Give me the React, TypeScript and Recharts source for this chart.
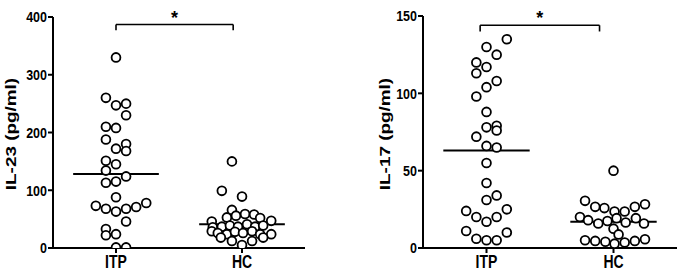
import React from 'react';
import { ScatterChart, Scatter, XAxis, YAxis, ReferenceLine } from 'recharts';

const groups = ['ITP', 'HC'];

// IL-23 panel
const il23Itp = [330, 260, 247, 250, 230, 210, 208, 188, 172, 180, 168, 151, 145, 134, 113, 115, 124, 88, 73, 68, 63, 68, 71, 78, 46, 33, 22, 24, 1, 1];
const il23ItpSlot = [0, -1, 0, 1, 1, -1, 0, -1, 0, 1, 1, -1, 0, -1, -1, 0, 1, 0, -2, -1, 0, 1, 2, 3, 1, -1, -1, 0, 0, 1];
const il23Hc = [150, 99, 89, 66, 53, 56, 59, 58, 52, 47, 46, 36, 37, 39, 37, 41, 37, 39, 29, 26, 24, 28, 26, 29, 24, 24, 12, 5, 12, 18, 18];
const il23HcSlot = [-1, -2, 0, -1, -1.5, -0.6, 0.3, 1.2, 1.8, 2.9, -3, -2.9, -2, -1.2, -0.4, 0.5, 1.3, 2.1, -3, -2.4, -1.5, -0.7, 0.1, 1, 1.8, 2.9, -1, 0, 1, -2.1, 2.1];
const il23Median = [128, 41];
const il23Ticks = [0, 100, 200, 300, 400];

// IL-17 panel
const il17Itp = [135, 130, 125, 120, 113, 117, 108, 104, 98, 88, 79, 78, 76, 72, 66, 65, 55, 42, 34, 31, 24, 25, 20, 20, 17, 11, 10, 6, 5, 5];
const il17ItpSlot = [2, 0, 1, -1, -1, 0, 1, 0, -1, 0, 1, 0, 1, -1, 0, 1, 0, 0, 1, 0, -2, 2, -1, 1, 0, -2, 2, -1, 0, 1];
const il17Hc = [50, 30.5, 26.6, 25.8, 23.6, 23.6, 26.6, 28.3, 20, 18, 15.8, 17.5, 19.3, 16.5, 19.3, 15.8, 12.5, 8.8, 5, 4.6, 4, 2.8, 3.5, 4.6, 5.7];
const il17HcSlot = [0, -2.8, -1.8, -0.9, 0.1, 1.1, 2.1, 3.1, -3.3, -2.5, -1.5, -0.6, 0.3, 1.2, 2.2, 3, 0, 0.5, -2.8, -1.8, -0.8, 0.1, 1.1, 2.1, 3.1];
const il17Median = [63, 17];
const il17Ticks = [0, 50, 100, 150];

const FONT = "'Liberation Sans', Arial, sans-serif";
const SLOT = 0.08;
const HALF = 0.34;

const toPoints = (values: number[], slots: number[], center: number) =>
  values.map((v, i) => ({ x: center + slots[i] * SLOT, y: v }));

const Dot = (props: any) => (
  <circle cx={props.cx} cy={props.cy} r={4.4} fill="#fff" stroke="#000" strokeWidth={1.8} />
);

// the original figure is stretched vertically, so the glyphs are drawn taller than wide
const YTick = (props: any) => (
  <g transform={`translate(${props.x},${props.y}) scale(1,1.2)`}>
    <text x={0} y={0} dy="0.36em" textAnchor="end" fill="#000" fontFamily={FONT} fontWeight="bold" fontSize={12.5}>
      {props.payload.value}
    </text>
  </g>
);

const XTick = (props: any) => (
  <g transform={`translate(${props.x},${props.y}) scale(1,1.25)`}>
    <text x={0} y={0} dy="0.71em" textAnchor="middle" fill="#000" fontFamily={FONT} fontWeight="bold" fontSize={14}>
      {groups[Math.round(props.payload.value - 0.5)]}
    </text>
  </g>
);

type PanelProps = {
  left: number;
  width: number;
  yWidth: number;
  top: number;
  max: number;
  ticks: number[];
  itp: { x: number; y: number }[];
  hc: { x: number; y: number }[];
  median: number[];
  bracket: { x1: number; x2: number; y: number; leg: number };
  title: string;
  titleX: number;
};

const Panel: React.FC<PanelProps> = ({ left, width, yWidth, top, max, ticks, itp, hc, median, bracket, title, titleX }) => {
  return (
    <div style={{ position: 'absolute', left, top: 0, width, height: 276 }}>
      <ScatterChart width={width} height={276} margin={{ top, right: 6, bottom: 0, left: 0 }}>
        <XAxis
          type="number"
          dataKey="x"
          domain={[0, 2]}
          ticks={[0.5, 1.5]}
          height={28}
          stroke="#000"
          strokeWidth={2}
          tickSize={5}
          tickMargin={3}
          tick={<XTick />}
        />
        <YAxis
          type="number"
          dataKey="y"
          domain={[0, max]}
          ticks={ticks}
          width={yWidth}
          stroke="#000"
          strokeWidth={2}
          tickSize={5}
          tickMargin={1}
          tick={<YTick />}
          allowDataOverflow
        />
        {median.map((m, i) => (
          <ReferenceLine
            key={'m' + i}
            segment={[{ x: 0.5 + i - HALF, y: m }, { x: 0.5 + i + HALF, y: m }]}
            stroke="#000"
            strokeWidth={2}
          />
        ))}
        <ReferenceLine
          segment={[{ x: bracket.x1, y: bracket.y }, { x: bracket.x2, y: bracket.y }]}
          stroke="#000"
          strokeWidth={1.6}
          ifOverflow="visible"
          label={{ value: '*', position: 'top', fill: '#000', fontSize: 18, fontWeight: 'bold', fontFamily: FONT, offset: 1 }}
        />
        <ReferenceLine
          segment={[{ x: bracket.x1, y: bracket.y }, { x: bracket.x1, y: bracket.leg }]}
          stroke="#000"
          strokeWidth={1.6}
          ifOverflow="visible"
        />
        <ReferenceLine
          segment={[{ x: bracket.x2, y: bracket.y }, { x: bracket.x2, y: bracket.leg }]}
          stroke="#000"
          strokeWidth={1.6}
          ifOverflow="visible"
        />
        <Scatter data={itp} shape={Dot} isAnimationActive={false} />
        <Scatter data={hc} shape={Dot} isAnimationActive={false} />
      </ScatterChart>
      <div
        style={{
          position: 'absolute',
          left: titleX,
          top: 134,
          transform: 'translate(-50%, -50%) rotate(-90deg) scaleX(1.35)',
          fontFamily: FONT,
          fontWeight: 'bold',
          fontSize: 14,
          whiteSpace: 'nowrap',
          color: '#000',
        }}
      >
        {title}
      </div>
    </div>
  );
};

export default function App() {
  return (
    <div style={{ position: 'absolute', left: 0, top: 0, width: 683, height: 276, background: '#fff' }}>
      <Panel
        left={0}
        width={311}
        yWidth={53}
        top={17}
        max={400}
        ticks={il23Ticks}
        itp={toPoints(il23Itp, il23ItpSlot, 0.5)}
        hc={toPoints(il23Hc, il23HcSlot, 1.5)}
        median={il23Median}
        bracket={{ x1: 0.5, x2: 1.43, y: 387, leg: 377 }}
        title="IL-23 (pg/ml)"
        titleX={11}
      />
      <Panel
        left={360}
        width={323}
        yWidth={63}
        top={16}
        max={150}
        ticks={il17Ticks}
        itp={toPoints(il17Itp, il17ItpSlot, 0.5)}
        hc={toPoints(il17Hc, il17HcSlot, 1.5)}
        median={il17Median}
        bracket={{ x1: 0.45, x2: 1.39, y: 144, leg: 140 }}
        title="IL-17 (pg/ml)"
        titleX={25}
      />
    </div>
  );
}
